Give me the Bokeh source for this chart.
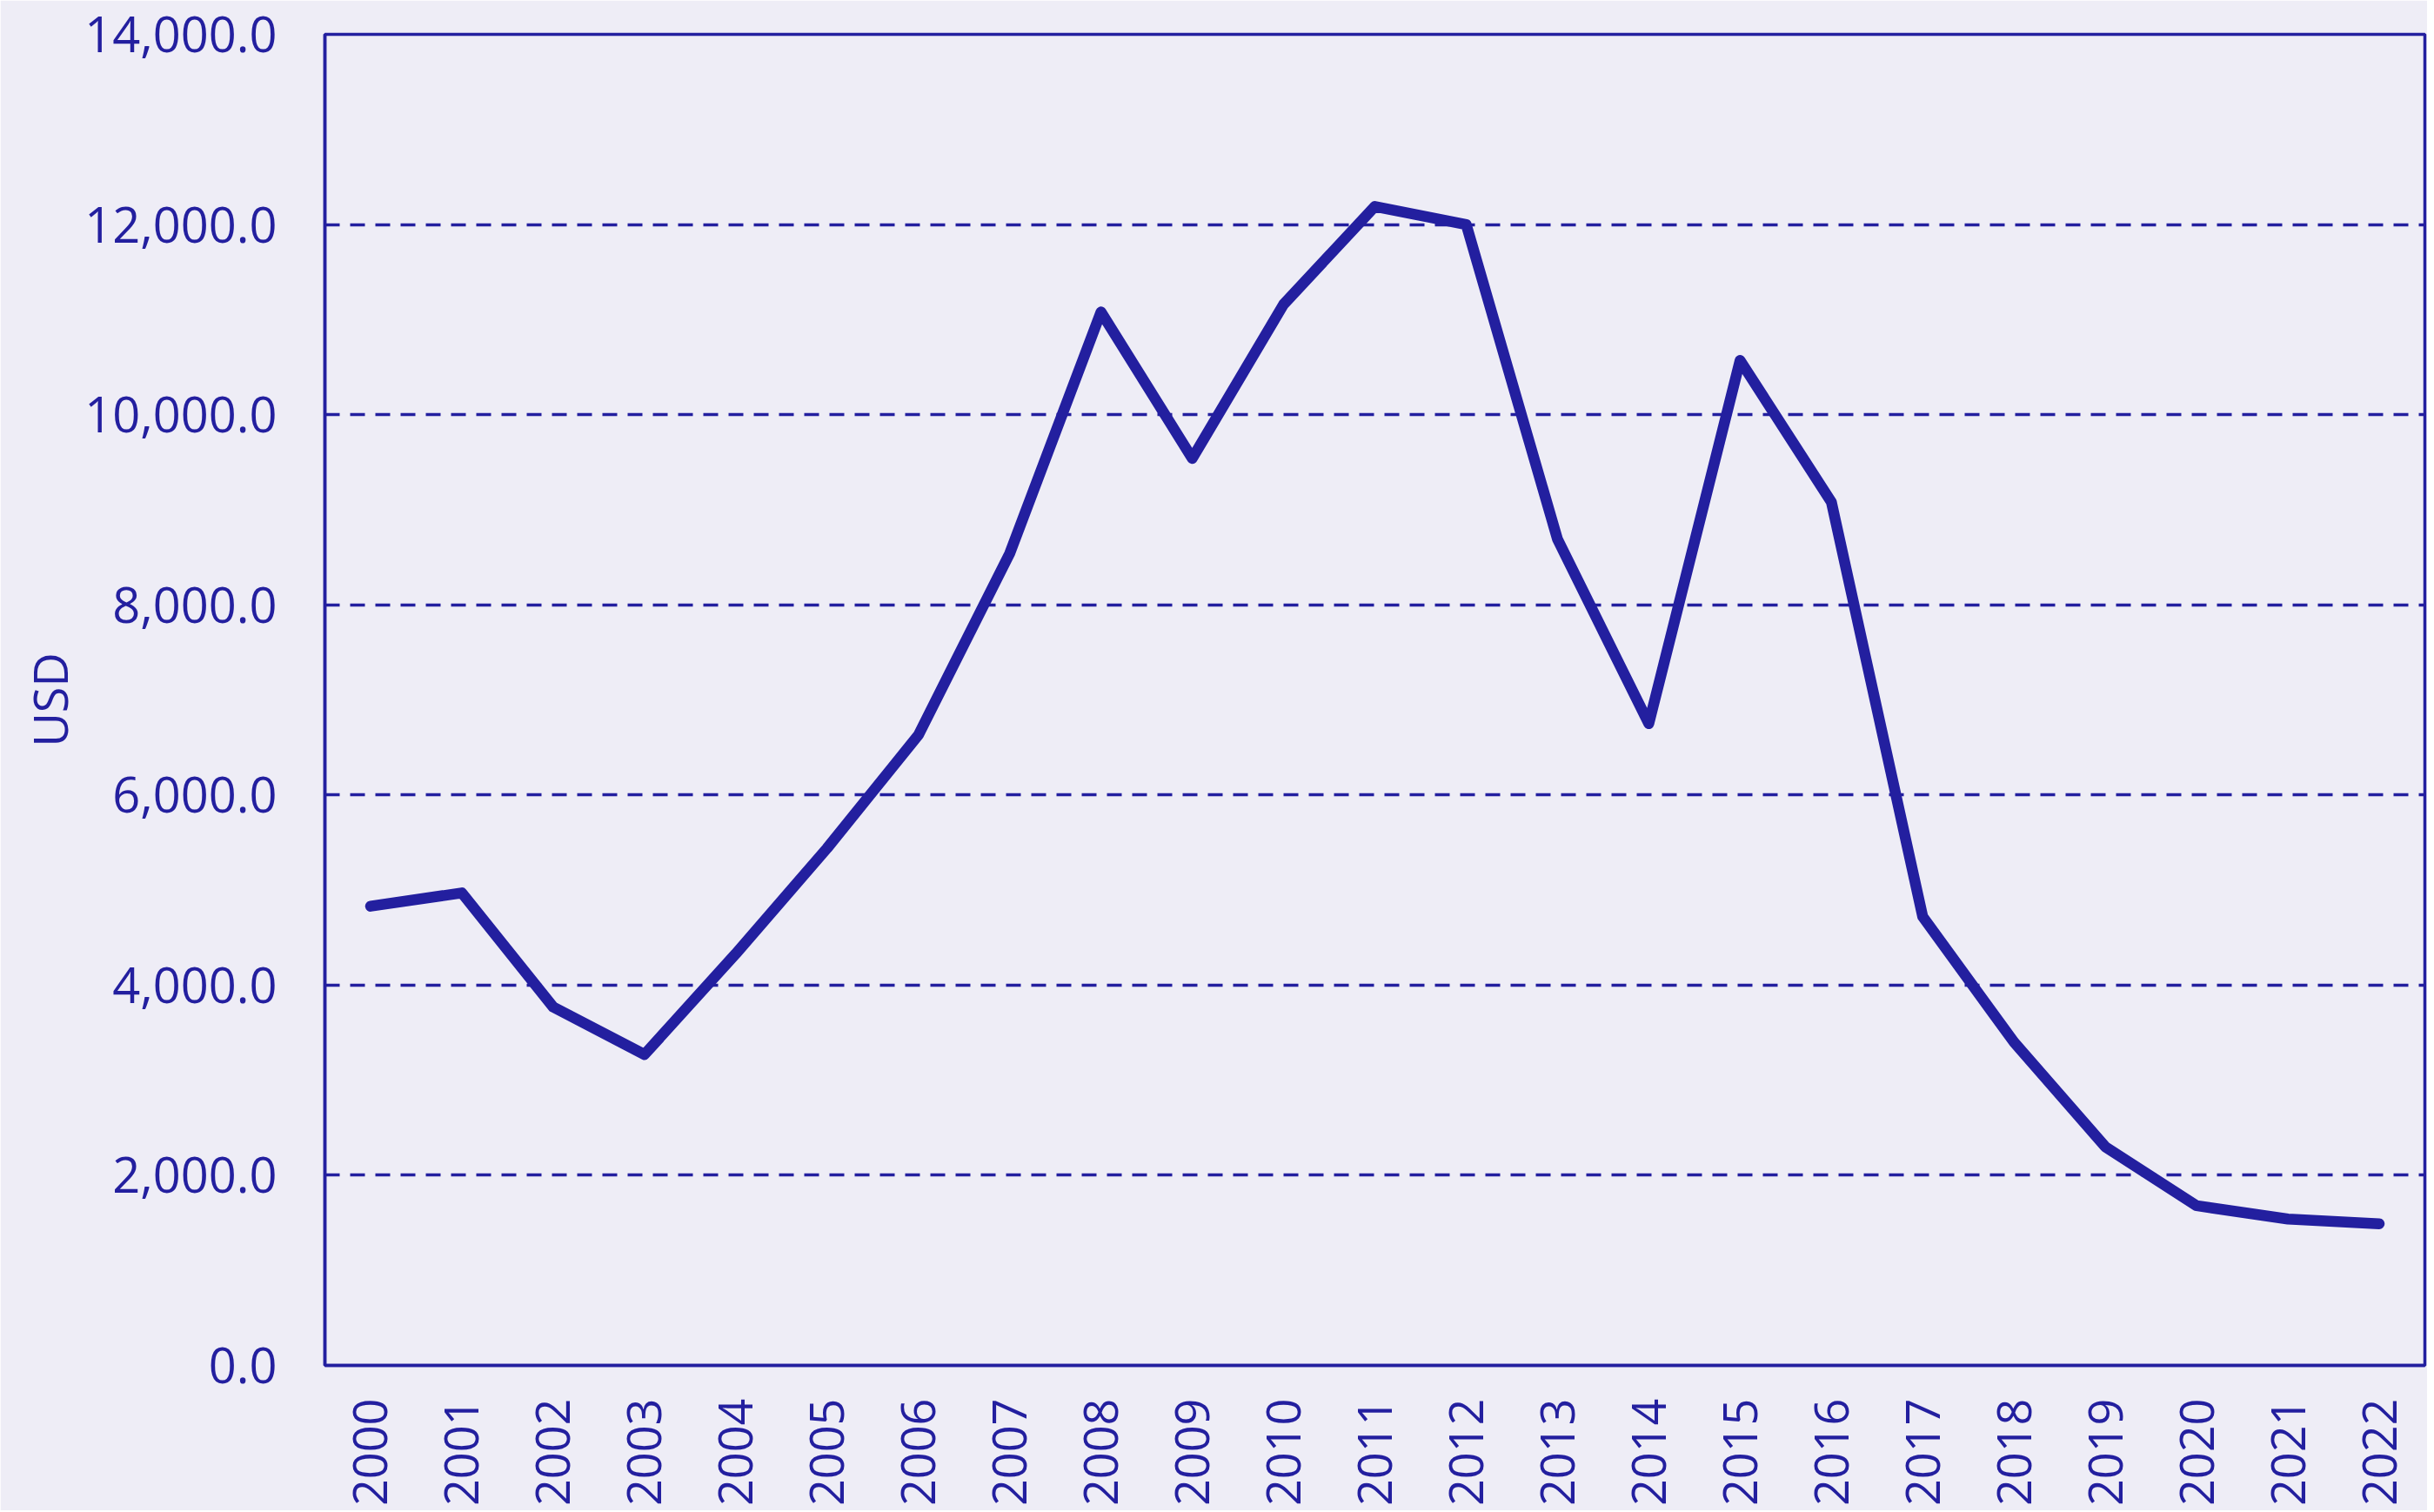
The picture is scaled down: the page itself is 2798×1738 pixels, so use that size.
import math
from bokeh.plotting import figure
from bokeh.models import FactorRange, Range1d, FixedTicker, NumeralTickFormatter
from bokeh.embed import file_html
from bokeh.resources import INLINE

years = [str(y) for y in range(2000, 2023)]
usd = [4830, 4970, 3770, 3270, 4330, 5440, 6630, 8540, 11080, 9540, 11160, 12190,
       12000, 8690, 6750, 10570, 9080, 4720, 3400, 2300, 1680, 1540, 1490]
y_ticks = [0, 2000, 4000, 6000, 8000, 10000, 12000, 14000]

BG = "#eeedf6"
INK = "#231f9f"
FONT = "Open Sans"

p = figure(width=2790, height=1736, x_range=FactorRange(*years), y_range=Range1d(0, 14000),
           output_backend="svg", toolbar_location=None,
           min_border_left=373, min_border_top=39, min_border_right=3, min_border_bottom=167)
p.background_fill_color = BG
p.border_fill_color = BG
p.outline_line_color = INK
p.outline_line_width = 3.5

p.line(x=years, y=usd, line_color=INK, line_width=12.5, line_cap="round", line_join="round")

p.xgrid.grid_line_color = None
p.ygrid.grid_line_color = INK
p.ygrid.grid_line_width = 3.5
p.ygrid.grid_line_dash = "17 12"
p.ygrid.ticker = FixedTicker(ticks=[2000, 4000, 6000, 8000, 10000, 12000])

p.yaxis.ticker = FixedTicker(ticks=y_ticks)
p.yaxis.formatter = NumeralTickFormatter(format="0,0.0")
p.yaxis.axis_label = "USD"
p.yaxis.axis_label_text_font = FONT
p.yaxis.axis_label_text_font_style = "normal"
p.yaxis.axis_label_text_font_size = "54px"
p.yaxis.axis_label_text_color = INK
p.yaxis.axis_label_standoff = 0

for ax in (p.xaxis[0], p.yaxis[0]):
    ax.axis_line_color = INK
    ax.axis_line_width = 3.5
    ax.major_tick_line_color = None
    ax.minor_tick_line_color = None
    ax.major_tick_out = 0
    ax.major_tick_in = 0
    ax.major_label_text_font = FONT
    ax.major_label_text_color = INK

p.yaxis.major_label_text_font_size = "56px"
p.yaxis.major_label_standoff = 55
p.xaxis.major_label_text_font_size = "54px"
p.xaxis.major_label_standoff = 38
p.xaxis.major_label_orientation = math.pi / 2

open("out.html", "w").write(file_html(p, INLINE))
